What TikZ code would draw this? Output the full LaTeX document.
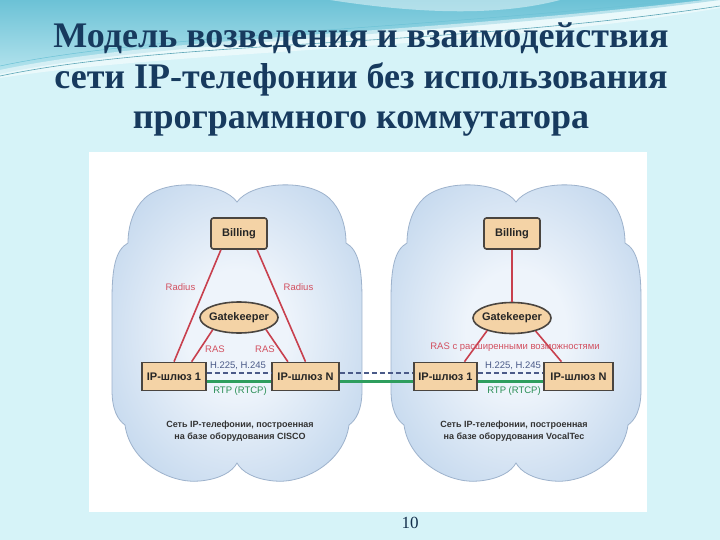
\documentclass[tikz,border=0pt]{standalone}
\usepackage{fontspec}
\setmainfont{Liberation Serif}
\setsansfont{Liberation Sans}
\usetikzlibrary{shapes.geometric}

\definecolor{slidebg}{HTML}{D6F3F8}
\definecolor{swoosh}{HTML}{6CC2D6}
\definecolor{titleblue}{HTML}{173A5E}
\definecolor{boxfill}{HTML}{F4D3A6}
\definecolor{boxline}{HTML}{4A4540}
\definecolor{linkred}{HTML}{C8404E}
\definecolor{labelred}{HTML}{D25060}
\definecolor{protoblue}{HTML}{4A5A88}
\definecolor{rtpgreen}{HTML}{2E9E5E}
\definecolor{cloudedge}{HTML}{9DB2CC}
\definecolor{cloudout}{HTML}{A3C2E3}
\definecolor{cloudin}{HTML}{EEF4FB}

\pgfdeclareradialshading{cloudglow}{\pgfpoint{0bp}{0bp}}{%
  color(0bp)=(cloudin); color(10bp)=(cloudin); color(46bp)=(cloudout); color(70bp)=(cloudout)}

% outline of one cloud, x relative to its middle
\newcommand\cloudoutline{%
  (0,202) .. controls (-14,182) and (-70,178) .. (-92,198)
  .. controls (-103,208) and (-109,225) .. (-109,243)
  .. controls (-122,250) and (-125,270) .. (-125,300)
  -- (-125,390)
  .. controls (-125,410) and (-119,420) .. (-112,425)
  .. controls (-107,462) and (-67,484) .. (-37,481)
  .. controls (-17,479) and (-5,472) .. (0,463)
  .. controls (5,472) and (17,479) .. (37,481)
  .. controls (67,484) and (107,462) .. (112,425)
  .. controls (119,420) and (125,410) .. (125,390)
  -- (125,300)
  .. controls (125,270) and (122,250) .. (109,243)
  .. controls (109,225) and (103,208) .. (92,198)
  .. controls (70,178) and (14,182) .. (0,202) -- cycle}

\tikzset{
  device/.style={draw=boxline, fill=boxfill, line width=1.6pt, text=black!85,
    font=\sffamily\bfseries\fontsize{11}{12}\selectfont, inner sep=2pt},
  billbox/.style={device, rounded corners=2.5pt, minimum width=56pt, minimum height=31pt},
  gwbox/.style={device, minimum height=28pt},
  gkell/.style={device, ellipse, inner xsep=-4pt, minimum width=78pt, minimum height=31pt},
  sig/.style={draw=linkred, line width=1.6pt},
  siglabel/.style={text=labelred, font=\sffamily\fontsize{9.5}{11}\selectfont},
  h323/.style={protoblue, line width=1.4pt, dash pattern=on 5pt off 3pt},
  h323label/.style={text=protoblue, font=\sffamily\fontsize{9.5}{11}\selectfont},
  rtp/.style={rtpgreen, line width=3pt},
  rtplabel/.style={text=rtpgreen!90!black, font=\sffamily\fontsize{9.5}{11}\selectfont},
  caption/.style={align=center, text=black!80, font=\sffamily\bfseries\fontsize{9}{12}\selectfont},
  title/.style={text=titleblue, font=\bfseries\fontsize{36}{40}\selectfont}
}

\begin{document}
\begin{tikzpicture}[x=1pt,y=1pt,yscale=-1]
  \useasboundingbox (0,0) rectangle (720,540);
  % slide
  \fill[slidebg] (0,0) rectangle (720,540);
  \shade[top color=swoosh, bottom color=slidebg!70!swoosh]
    (0,0) -- (0,74) .. controls (160,40) and (430,38) .. (720,0) -- cycle;
  \fill[white, opacity=.5] (0,70) .. controls (160,36) and (430,34) .. (720,-2)
    -- (720,8) .. controls (470,50) and (180,50) .. (0,78) -- cycle;
  \draw[swoosh!85!black, line width=.6pt] (0,76) .. controls (170,40) and (440,48) .. (720,6);
  \draw[swoosh, line width=.5pt] (0,66) .. controls (150,34) and (420,30) .. (720,-4);
  \fill[white, opacity=.45] (330,0) .. controls (420,14) and (500,16) .. (560,0) -- cycle;

  \node[title, anchor=base] (t1) at (361,48) {Модель возведения и взаимодействия};
  \node[title, anchor=base] (t2) at (361,89) {сети IP-телефонии без использования};
  \node[title, anchor=base] (t3) at (361,129) {программного коммутатора};

  % picture panel and clouds
  \fill[white] (89,152) rectangle (647,512);
  \foreach \cx in {237,516} {
    \begin{scope}[shift={(\cx,0)}]
      \path[draw=cloudedge, line width=.8pt, shading=cloudglow] \cloudoutline;
    \end{scope}
  }

  % CISCO network
  \node[billbox] (billL) at (239,233.5) {Billing};
  \node[gkell] (gkL) at (239,317.5) {Gatekeeper};
  \node[gwbox, minimum width=64pt] (gwL1) at (174,376.5) {IP-шлюз 1};
  \node[gwbox, minimum width=67pt] (gwLN) at (305.5,376.5) {IP-шлюз N};
  % VocalTec network
  \node[billbox] (billR) at (512,233.5) {Billing};
  \node[gkell] (gkR) at (512,318) {Gatekeeper};
  \node[gwbox, minimum width=63pt] (gwR1) at (445.5,376.5) {IP-шлюз 1};
  \node[gwbox, minimum width=69pt] (gwRN) at (578.5,376.5) {IP-шлюз N};

  \draw[sig] (billL.222) -- (gwL1.north);
  \draw[sig] (billL.318) -- (gwLN.north);
  \draw[sig] (gkL.205) -- (gwL1.40);
  \draw[sig] (gkL.336) -- (gwLN.140);
  \draw[sig] (billR.south) -- (gkR.north);
  \draw[sig] (gkR.207) -- (gwR1.38);
  \draw[sig] (gkR.331) -- (gwRN.139);

  \draw[h323] ([yshift=-3.5pt]gwL1.east) -- ([yshift=-3.5pt]gwLN.west);
  \draw[h323] ([yshift=-3.5pt]gwLN.east) -- ([yshift=-3.5pt]gwR1.west);
  \draw[h323] ([yshift=-3.5pt]gwR1.east) -- ([yshift=-3.5pt]gwRN.west);
  \draw[rtp] ([yshift=4.5pt]gwL1.east) -- ([yshift=4.5pt]gwLN.west);
  \draw[rtp] ([yshift=4.5pt]gwLN.east) -- ([yshift=4.5pt]gwR1.west);
  \draw[rtp] ([yshift=4.5pt]gwR1.east) -- ([yshift=4.5pt]gwRN.west);

  \node[siglabel] (radL1) at (180.5,287) {Radius};
  \node[siglabel] (radL2) at (298.5,287) {Radius};
  \node[siglabel] (rasL1) at (215,349) {RAS};
  \node[siglabel] (rasL2) at (265,349) {RAS};
  \node[siglabel] (rasR) at (515,347) {RAS с расширенными возможностями};
  \node[h323label] (hL) at (238,366) {H.225, H.245};
  \node[h323label] (hR) at (513,366) {H.225, H.245};
  \node[rtplabel] (rtpL) at (240,391) {RTP (RTCP)};
  \node[rtplabel] (rtpR) at (514,391) {RTP (RTCP)};

  \node[caption] (capL) at (240,431) {Сеть IP-телефонии, построенная\\на базе оборудования CISCO};
  \node[caption] (capR) at (514,431) {Сеть IP-телефонии, построенная\\на базе оборудования VocalTec};

  \node[text=titleblue!80!black, font=\fontsize{17}{20}\selectfont] (page) at (410,523) {10};
\end{tikzpicture}
\end{document}
